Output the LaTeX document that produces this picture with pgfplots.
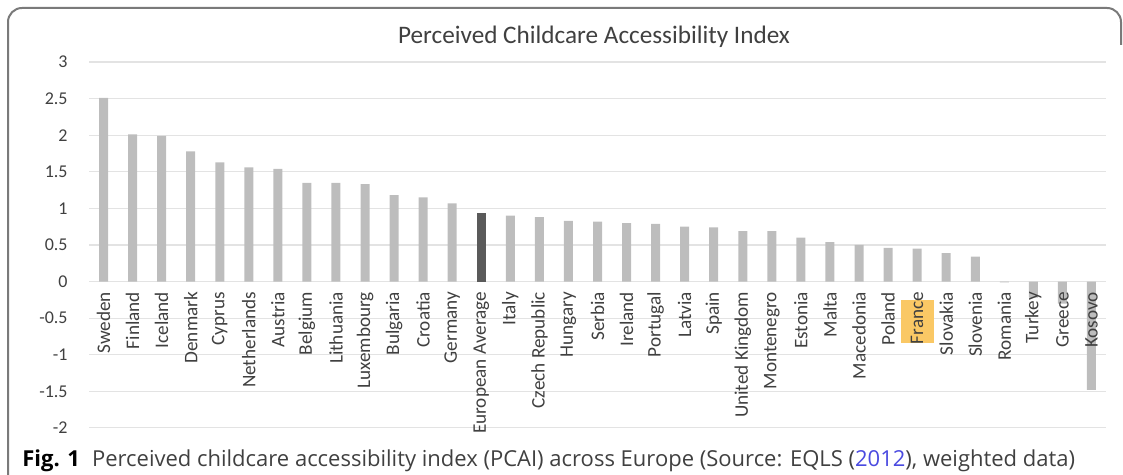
\documentclass[border=0pt]{standalone}
\usepackage{pgfplots}
\pgfplotsset{compat=1.18}
\usepackage{pgfplotstable}
\usepackage{fontspec}
\setmainfont{Carlito}
\newfontfamily\capfont{Open Sans}
\definecolor{bargray}{HTML}{BDBDBD}
\definecolor{avggray}{HTML}{5A5A5A}
\definecolor{gridgray}{HTML}{E3E3E3}
\definecolor{txtgray}{HTML}{404040}
\definecolor{framegray}{HTML}{7A7A7A}
\definecolor{boxorange}{HTML}{FAC865}
\definecolor{linkblue}{HTML}{4A4AE0}
\pgfplotstableread{
x y
0 2.51
1 2.01
2 1.99
3 1.78
4 1.63
5 1.56
6 1.54
7 1.35
8 1.35
9 1.33
10 1.18
11 1.15
12 1.07
14 0.90
15 0.88
16 0.83
17 0.82
18 0.80
19 0.79
20 0.75
21 0.74
22 0.69
23 0.69
24 0.60
25 0.54
26 0.50
27 0.46
28 0.45
29 0.39
30 0.34
31 -0.01
32 -0.22
33 -0.30
34 -1.48
}\countries
\pgfplotstableread{
x y
13 0.94
}\euavg
\begin{document}
\begin{tikzpicture}[x=0.5pt,y=0.5pt]
\useasboundingbox (0,0) rectangle (1123,475);
\clip (0,0) rectangle (1123,475);
\draw[framegray, line width=1pt, rounded corners=7pt] (8,-30) -- (8,467) -- (1121,467) -- (1121,430);
\node[font=\fontsize{12.6}{14}\selectfont, text=txtgray] at (594,438) {Perceived Childcare Accessibility Index};
\begin{axis}[
  axis on top,
  at={(44.5pt,23.5pt)}, anchor=south west,
  scale only axis, width=508.5pt, height=183pt,
  xmin=-0.5, xmax=34.5, ymin=-2, ymax=3,
  axis x line=middle, axis y line=left,
  axis line style={draw=none},
  major tick length=0pt,
  ytick={-2,-1.5,-1,-0.5,0,0.5,1,1.5,2,2.5,3},
  yticklabels={-2,-1.5,-1,-0.5,0,0.5,1,1.5,2,2.5,3},
  xtick={0,...,34},
  xticklabels={Sweden,Finland,Iceland,Denmark,Cyprus,Netherlands,Austria,Belgium,Lithuania,Luxembourg,Bulgaria,Croatia,Germany,European Average,Italy,Czech Republic,Hungary,Serbia,Ireland,Portugal,Latvia,Spain,United Kingdom,Montenegro,Estonia,Malta,Macedonia,Poland,France,Slovakia,Slovenia,Romania,Turkey,Greece,Kosovo},
  tick label style={text=txtgray},
  yticklabel style={font=\fontsize{9}{10}\selectfont, anchor=east, inner sep=0pt, xshift=-10.5pt},
  xticklabel style={font=\fontsize{9.6}{10}\selectfont, rotate=90, anchor=east, inner sep=0pt, xshift=-5pt},
  ybar, bar width=4.5pt,
]
\pgfplotsinvokeforeach{-2,-1.5,-1,-0.5,0,0.5,1,1.5,2,2.5,3}{
  \draw[gridgray, line width=0.6pt] (axis cs:-0.5,#1) -- (axis cs:34.5,#1);
}
\fill[boxorange] (axis cs:27.43,-0.25) rectangle (axis cs:28.57,-0.84);
\addplot[fill=bargray, draw=none, bar shift=0pt] table[x=x,y=y] {\countries};
\addplot[fill=avggray, draw=none, bar shift=0pt] table[x=x,y=y] {\euavg};
\end{axis}
\node[anchor=base west, font=\capfont\fontsize{11}{12}\selectfont, text=txtgray, inner sep=0pt] at (22,8) {\textcolor{black}{\textbf{Fig. 1}}\hspace{6pt}Perceived childcare accessibility index (PCAI) across Europe (Source: EQLS (\textcolor{linkblue}{2012}), weighted data)};
\end{tikzpicture}
\end{document}
